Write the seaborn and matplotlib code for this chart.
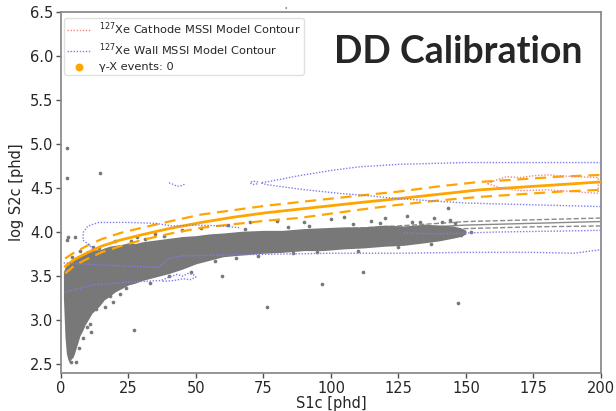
import numpy as np
import pandas as pd
import matplotlib
matplotlib.use("Agg")
import matplotlib.pyplot as plt
import seaborn as sns

sns.set_style("ticks")
plt.rcParams['font.family'] = ['DejaVu Sans']

# ---------------- data ----------------
# orange gamma-X model band (median and +-1 sigma)
band_s1 = [1.5, 5, 10, 15, 22, 30, 40, 52, 64, 76, 88, 100, 112, 125, 140, 155, 170, 185, 200]
band_mid = [3.61, 3.69, 3.77, 3.84, 3.91, 3.97, 4.04, 4.11, 4.17, 4.22, 4.26, 4.30, 4.34, 4.38, 4.43, 4.48, 4.51, 4.54, 4.57]
band_up = [3.70, 3.77, 3.85, 3.92, 3.99, 4.05, 4.12, 4.20, 4.25, 4.30, 4.34, 4.38, 4.42, 4.46, 4.52, 4.57, 4.60, 4.63, 4.65]
band_lo = [3.53, 3.62, 3.70, 3.77, 3.84, 3.91, 3.98, 4.05, 4.09, 4.13, 4.16, 4.21, 4.26, 4.31, 4.36, 4.40, 4.43, 4.46, 4.48]

# grey NR band (median and +-1 sigma), visible on the right
nr_s1 = [100, 125, 150, 175, 200]
nr_mid = [4.00, 4.04, 4.08, 4.10, 4.12]
nr_up = [4.03, 4.07, 4.12, 4.14, 4.16]
nr_lo = [3.97, 4.01, 4.04, 4.06, 4.07]

# DD calibration event cloud: outline of the dense region
dd_s1 = [0.9, 1.5, 2, 2.5, 3, 3.5, 4.5, 5, 6, 7, 8, 9, 10, 11.5, 13, 14.5, 16, 18, 20, 22.5, 25, 27.5, 30, 35,
         40, 45, 50, 55, 60, 67, 75, 82, 90, 97, 105, 112, 120, 127, 135, 140, 145, 148, 150]
dd_top = [3.55, 3.60, 3.62, 3.64, 3.66, 3.65, 3.69, 3.70, 3.72, 3.73, 3.75, 3.75, 3.77, 3.79, 3.80, 3.80, 3.82, 3.84,
          3.85, 3.86, 3.88, 3.87, 3.89, 3.91, 3.93, 3.95, 3.96, 3.98, 3.99, 4.01, 4.02, 4.02, 4.04, 4.05, 4.06,
          4.06, 4.08, 4.07, 4.09, 4.08, 4.07, 4.05, 4.02]
dd_bot = [3.25, 2.80, 2.62, 2.56, 2.52, 2.55, 2.58, 2.62, 2.72, 2.82, 2.88, 2.95, 3.00, 3.08, 3.12, 3.17, 3.23, 3.27,
          3.32, 3.36, 3.40, 3.42, 3.45, 3.49, 3.53, 3.58, 3.64, 3.68, 3.72, 3.74, 3.76, 3.77, 3.79, 3.79, 3.81,
          3.82, 3.84, 3.85, 3.88, 3.90, 3.93, 3.95, 3.98]

# DD calibration isolated events
dd_out_s1 = [2.1, 2.1, 14.4, 2.6, 5.2, 2.1, 59.5, 96.8, 76.2, 147, 27, 11.3, 10.6, 12.8, 16.4, 19.3,
             3.8, 5.5, 3.3, 112, 62, 70, 80, 90, 100, 105, 115, 120, 128, 133, 138, 143.4, 146, 148,
             152, 12, 20, 28, 35, 45, 52, 18, 24, 33, 8, 6.5, 9.5, 22, 40, 48, 57, 65, 73, 86,
             95, 110, 125, 137, 141, 144, 130, 118, 108, 92, 84, 68, 4, 7, 14, 26, 31, 38]
dd_out_s2 = [4.96, 4.62, 4.67, 3.95, 3.95, 3.91, 3.50, 3.41, 3.15, 3.20, 2.89, 2.87, 2.96, 3.13, 3.15, 3.21,
             2.52, 2.53, 2.58, 3.55, 4.08, 4.12, 4.13, 4.12, 4.15, 4.17, 4.13, 4.16, 4.18, 4.12, 4.16, 4.27, 4.10, 3.97,
             4.00, 3.83, 3.90, 3.95, 3.98, 4.02, 4.05, 3.28, 3.36, 3.42, 2.80, 2.68, 2.92, 3.30, 3.50, 3.55, 3.67,
             3.71, 3.73, 3.76, 3.77, 3.79, 3.83, 3.86, 4.12, 4.14, 4.11, 4.10, 4.09, 4.07, 4.06, 4.04, 3.72, 3.78,
             3.82, 3.90, 3.92, 3.96]

# 127Xe wall MSSI model contours
wall_a_s1 = [200, 175, 150, 125, 110, 100, 88, 78, 74, 76, 88, 103, 115, 125, 150, 175, 200]
wall_a_s2 = [4.79, 4.79, 4.79, 4.77, 4.74, 4.70, 4.64, 4.58, 4.56, 4.54, 4.49, 4.44, 4.41, 4.38, 4.33, 4.31, 4.29]
wall_b_s1 = [66, 60, 51, 41, 35, 25, 14, 10, 8.3, 8.1, 10.7, 12]
wall_b_s2 = [4.05, 4.07, 4.08, 4.07, 4.10, 4.11, 4.11, 4.07, 4.00, 3.91, 3.85, 3.80]
wall_c_s1 = [1, 7, 20, 36, 40, 45, 60, 80, 100, 125, 150, 175, 190, 200]
wall_c_s2 = [3.65, 3.64, 3.62, 3.60, 3.70, 3.73, 3.74, 3.75, 3.76, 3.76, 3.77, 3.77, 3.76, 3.80]
wall_d_s1 = [1.5, 12, 24, 37, 41, 43, 45, 47, 49, 50, 48, 45, 42, 37]
wall_d_s2 = [3.32, 3.40, 3.43, 3.45, 3.50, 3.52, 3.50, 3.53, 3.52, 3.49, 3.46, 3.47, 3.45, 3.44]
wall_e_s1 = [127, 140, 160, 180, 200]
wall_e_s2 = [3.99, 3.98, 4.00, 4.01, 4.02]
wall_f_s1 = [73, 71, 70, 71, 73]
wall_f_s2 = [4.57, 4.58, 4.56, 4.54, 4.55]
wall_g_s1 = [40, 41, 43, 45, 46]
wall_g_s2 = [4.56, 4.55, 4.52, 4.53, 4.55]

# 127Xe cathode MSSI model contour
cath_s1 = [158, 162, 165, 170, 175, 180, 190, 199, 199, 190, 180, 170, 163, 158]
cath_s2 = [4.55, 4.60, 4.63, 4.62, 4.64, 4.65, 4.63, 4.62, 4.44, 4.46, 4.48, 4.47, 4.50, 4.55]

# gamma-X events (none)
gx_s1 = []
gx_s2 = []

legend_labels = [r"$^{127}$Xe Cathode MSSI Model Contour",
                 r"$^{127}$Xe Wall MSSI Model Contour",
                 "γ-X events: 0"]

# ---------------- plot ----------------
fig = plt.figure(figsize=(6.16, 4.11), dpi=100)
ax = fig.add_axes([0.099, 0.0925, 0.8766, 0.8783])

grey = "#787878"
orange = "#FFA500"
blue = "#7f7deb"
pink = "#f08888"

# grey NR band lines
sns.lineplot(x=nr_s1, y=nr_mid, ax=ax, color="#8a8a8a", lw=1.0, zorder=1)
sns.lineplot(x=nr_s1, y=nr_up, ax=ax, color="#8a8a8a", lw=1.0, linestyle="--", zorder=1)
sns.lineplot(x=nr_s1, y=nr_lo, ax=ax, color="#8a8a8a", lw=1.0, linestyle="--", zorder=1)

# event cloud
ax.fill_between(dd_s1, dd_bot, dd_top, color=grey, lw=0, zorder=2)
sns.scatterplot(x=dd_out_s1, y=dd_out_s2, ax=ax, color=grey, s=7, linewidth=0, zorder=2)

# orange model band
sns.lineplot(x=band_s1, y=band_mid, ax=ax, color=orange, lw=2.0, zorder=3)
sns.lineplot(x=band_s1, y=band_up, ax=ax, color=orange, lw=1.6, linestyle=(0, (5, 3)), zorder=3)
sns.lineplot(x=band_s1, y=band_lo, ax=ax, color=orange, lw=1.6, linestyle=(0, (5, 3)), zorder=3)

# contours
for xs, ys in [(wall_a_s1, wall_a_s2), (wall_b_s1, wall_b_s2), (wall_c_s1, wall_c_s2),
               (wall_d_s1, wall_d_s2), (wall_e_s1, wall_e_s2), (wall_f_s1, wall_f_s2),
               (wall_g_s1, wall_g_s2)]:
    sns.lineplot(x=xs, y=ys, ax=ax, sort=False, estimator=None, color=blue,
                 lw=1.0, linestyle=(0, (1, 1.2)), zorder=4)
sns.lineplot(x=cath_s1, y=cath_s2, ax=ax, sort=False, estimator=None, color=pink,
             lw=1.0, linestyle=(0, (1, 1.2)), zorder=4)

# legend handles
h1, = ax.plot([], [], color=pink, lw=1.0, linestyle=(0, (1, 1.2)))
h2, = ax.plot([], [], color=blue, lw=1.0, linestyle=(0, (1, 1.2)))
h3 = ax.scatter(gx_s1, gx_s2, color=orange, s=22)
ax.legend([h1, h2, h3], legend_labels, loc="upper left", fontsize=8.2,
          bbox_to_anchor=(0.002, 0.99), borderaxespad=0.2, frameon=True, borderpad=0.25,
          handlelength=2.0, labelspacing=0.35, framealpha=0.8, edgecolor="0.85")

ax.set_xlim(0, 200)
ax.set_ylim(2.4, 6.5)
ax.set_xticks([0, 25, 50, 75, 100, 125, 150, 175, 200])
ax.set_yticks([2.5, 3.0, 3.5, 4.0, 4.5, 5.0, 5.5, 6.0, 6.5])
ax.set_xlabel("S1c [phd]", fontsize=10.5, labelpad=0)
ax.set_ylabel("log S2c [phd]", fontsize=10.5, labelpad=4)
ax.tick_params(labelsize=10.5, length=3.5, width=1.0, color="0.3", pad=2)
for s in ax.spines.values():
    s.set_color("0.55")
    s.set_linewidth(1.3)

fig.text(0.744, 0.873, "DD Calibration", fontsize=27, fontweight="bold",
         family=["Lato", "DejaVu Sans"], ha="center", va="center")
fig.text(0.463, 0.972, "'", fontsize=6, ha="center", va="center")

fig.savefig("out.png", dpi=100, facecolor="white")
